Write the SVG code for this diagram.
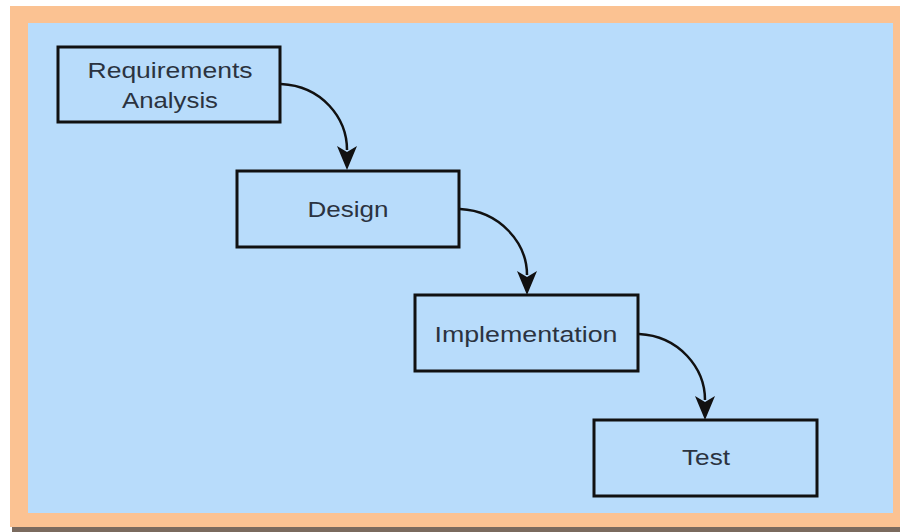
<svg xmlns="http://www.w3.org/2000/svg" width="900" height="532" viewBox="0 0 900 532">
<defs>
<style>
.box{fill:#b8dcfb;stroke:#111;stroke-width:3}
.lbl{font-family:"Liberation Sans",Arial,sans-serif;font-size:22px;fill:#2b3340;text-anchor:middle}
.con{fill:none;stroke:#111;stroke-width:2.5}
.head{fill:#111}
</style>
</defs>
<rect x="0" y="0" width="900" height="532" fill="#ffffff"/>
<rect x="12" y="8" width="890" height="524" fill="#7a6a5e"/>
<rect x="10" y="6" width="890" height="521" fill="#fbc292"/>
<rect x="28" y="23" width="865" height="490" fill="#b8dcfb"/>
<g id="requirements">
<rect class="box" x="58" y="47" width="222" height="75"/>
<text class="lbl" x="170" y="78" textLength="165" lengthAdjust="spacingAndGlyphs">Requirements</text>
<text class="lbl" x="170" y="108" textLength="96" lengthAdjust="spacingAndGlyphs">Analysis</text>
</g>
<g id="design">
<rect class="box" x="237" y="171" width="222" height="76"/>
<text class="lbl" x="348" y="217" textLength="81" lengthAdjust="spacingAndGlyphs">Design</text>
</g>
<g id="implementation">
<rect class="box" x="415" y="295" width="223" height="76"/>
<text class="lbl" x="526" y="342" textLength="183" lengthAdjust="spacingAndGlyphs">Implementation</text>
</g>
<g id="test">
<rect class="box" x="594" y="420" width="223" height="76"/>
<text class="lbl" x="706" y="465" textLength="48" lengthAdjust="spacingAndGlyphs">Test</text>
</g>
<g id="connectors">
<path class="con" d="M281,84 C322,86 347,118 347,150"/>
<path class="head" d="M337,146 L347,170 L357,146 L347,152 Z"/>
<path class="con" d="M460,209 C500,211 527,243 527,275"/>
<path class="head" d="M517,271 L527,295 L537,271 L527,277 Z"/>
<path class="con" d="M639,334 C679,336 705,368 705,400"/>
<path class="head" d="M695,396 L705,420 L715,396 L705,402 Z"/>
</g>
</svg>
